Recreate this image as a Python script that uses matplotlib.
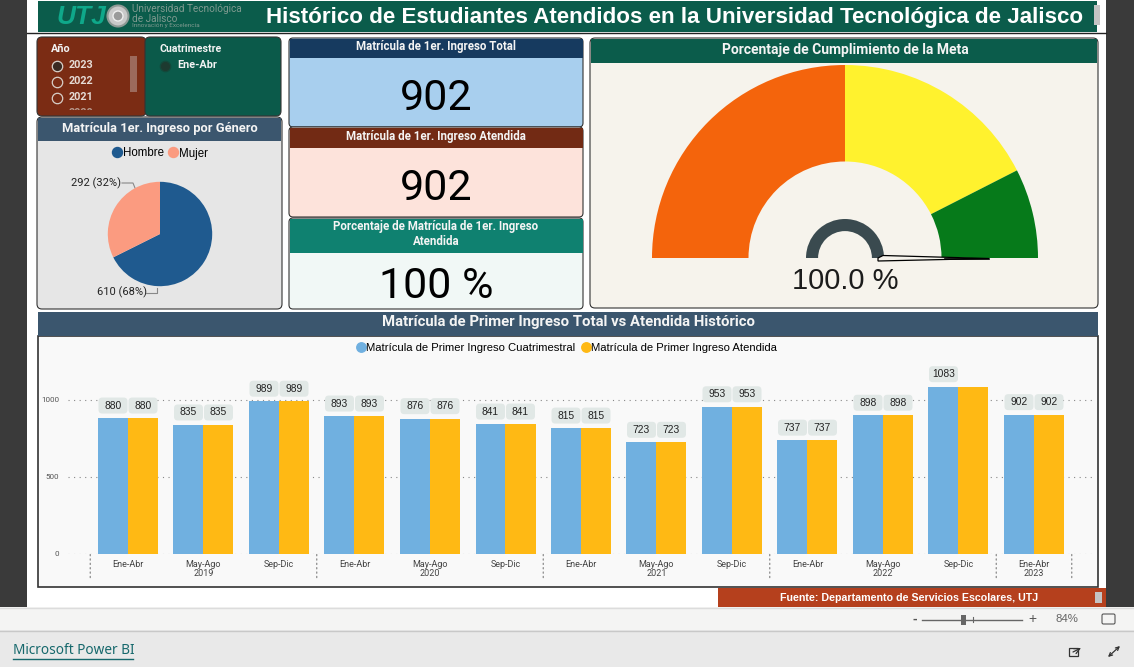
import matplotlib
matplotlib.use("Agg")
import matplotlib.pyplot as plt
from matplotlib.patches import Rectangle, FancyBboxPatch, Circle, Polygon
from matplotlib.lines import Line2D

W, H = 1134, 667
DIN = ['Liberation Sans Narrow', 'Roboto', 'DejaVu Sans']
ARIAL = ['Liberation Sans', 'DejaVu Sans']

# ---------- data ----------
years = ['2019', '2020', '2021', '2022', '2023']
year_centres = [1, 4, 7, 10, 12]
year_separators = [-0.5, 2.5, 5.5, 8.5, 11.5, 12.5]
periods = ['Ene-Abr', 'May-Ago', 'Sep-Dic'] * 4 + ['Ene-Abr']
total_series = [880, 835, 989, 893, 876, 841, 815, 723, 953, 737, 898, 1083, 902]
attended_series = [880, 835, 989, 893, 876, 841, 815, 723, 953, 737, 898, 1083, 902]
gender_labels = ['Hombre', 'Mujer']
gender_values = [610, 292]
gender_text = ['610 (68%)', '292 (32%)']
gauge_segments = [50, 35, 15]
gauge_colors = ['#f4640c', '#fff22e', '#067a1a']
slicer_years = ['2023', '2022', '2021']
kpi_total = '902'
kpi_attended = '902'
kpi_percent = '100 %'
gauge_value = '100.0 %'

fig = plt.figure(figsize=(W / 100, H / 100), dpi=100, facecolor='white')
bg = fig.add_axes([0, 0, 1, 1])
bg.set_xlim(0, W); bg.set_ylim(H, 0); bg.axis('off')


def axes_px(x0, y0, x1, y1, **kw):
    return fig.add_axes([x0 / W, 1 - y1 / H, (x1 - x0) / W, (y1 - y0) / H], **kw)


def rect(x0, y0, x1, y1, color, z=1, **kw):
    bg.add_patch(Rectangle((x0, y0), x1 - x0, y1 - y0, facecolor=color, edgecolor=kw.pop('ec', 'none'),
                           linewidth=kw.pop('lw', 0), zorder=z, **kw))


def rbox(x0, y0, x1, y1, color, z=1, ec='#333333', lw=0.8, r=5):
    bg.add_patch(FancyBboxPatch((x0 + r, y0 + r), x1 - x0 - 2 * r, y1 - y0 - 2 * r,
                                boxstyle=f'round,pad={r},rounding_size={r}', facecolor=color,
                                edgecolor=ec, linewidth=lw, zorder=z))


def txt(x, y, s, size, color='black', ha='center', va='center', family=DIN, weight='normal', z=6, **kw):
    return bg.text(x, y, s, fontsize=size, color=color, ha=ha, va=va, family=family,
                   fontweight=weight, zorder=z, **kw)


# ---------- page chrome ----------
rect(0, 0, 27, 607, '#3a3a3a')
rect(1106, 0, W, 607, '#3a3a3a')
rect(0, 607, W, 630, '#f4f4f3')
rect(0, 630, W, H, '#e9e9e9')
bg.plot([0, W], [607.5, 607.5], color='#dcdcdc', lw=1, zorder=2)
bg.plot([0, W], [630.5, 630.5], color='#c8c8c8', lw=1, zorder=2)

# ---------- header ----------
rect(38, 1, 1097, 32, '#0b5c4b', z=2)
bg.plot([27, 1106], [32.5, 32.5], color='#222222', lw=1, zorder=3)
txt(81, 17, 'UTJ', 19, '#0fa88a', family=ARIAL, weight='bold', style='italic')
bg.add_patch(Circle((118, 16), 10.5, facecolor='#c9c9c9', edgecolor='#8f9a96', lw=1.5, zorder=4))
bg.add_patch(Circle((118, 16), 5, facecolor='#9a9a9a', edgecolor='#eeeeee', lw=1, zorder=5))
txt(132, 9.5, 'Universidad Tecnológica', 7.2, '#7f9a90', ha='left')
txt(132, 18.5, 'de Jalisco', 7.2, '#7f9a90', ha='left')
txt(132, 26, 'Innovación y Excelencia', 4.6, '#7f9a90', ha='left')
txt(675, 17, 'Histórico de Estudiantes Atendidos en la Universidad Tecnológica de Jalisco',
    16.1, 'white', family=ARIAL, weight='bold')
rect(1094, 5, 1100, 25, '#c4c4c4', z=4)

# ---------- slicers ----------
rbox(37, 37, 146, 116, '#7b2c14', z=2)
rbox(145, 37, 281, 116, '#0b5a4a', z=2)
txt(51, 49.5, 'Año', 7.8, '#f3f3f3', ha='left', weight='bold')
txt(159, 49.5, 'Cuatrimestre', 7.6, '#f3f3f3', ha='left', weight='bold')
for i, (label, sy) in enumerate(zip(slicer_years, [65.5, 81.5, 97.5])):
    bg.plot(57, sy, 'o', ms=7.5, mfc='#3a2a22' if i == 0 else 'none', mec='#d8cfc8', mew=0.9, zorder=5)
    txt(69, sy, label, 7.8, '#e6dcd6', ha='left', weight='bold')
clip = Rectangle((40, 100), 85, 10, transform=bg.transData)
hidden = txt(69, 113.5, '2020', 7.8, '#b89a8e', ha='left', weight='bold')
hidden.set_clip_path(clip)
hidden.set_clip_on(True)
rect(130, 56, 137, 92, '#9c6a5c', z=4)
bg.plot(164.5, 65.5, 'o', ms=7.5, mfc='#1d3a30', mec='#124a3c', mew=0.9, zorder=5)
txt(177, 65.5, 'Ene-Abr', 7.8, '#f3f3f3', ha='left', weight='bold')

# ---------- gender panel ----------
rbox(37, 117, 282, 309, '#e6e6e6', z=2)
rect(38, 118, 281, 141, '#3b566e', z=3)
txt(160, 128.5, 'Matrícula 1er. Ingreso por Género', 9.25, '#f4f4f4', weight='bold')
pie_ax = axes_px(100, 174, 220, 294)
pie_colors = ['#1f5a8f', '#fb9b80']
wedges, _ = pie_ax.pie(gender_values, colors=pie_colors, startangle=90, counterclock=False, radius=0.87)
pie_ax.set_xlim(-1, 1); pie_ax.set_ylim(-1, 1)
pie_ax.set_aspect('equal')
pie_handles = [Line2D([], [], marker='o', ls='', ms=7.2, color=c) for c in pie_colors]
fig.legend(pie_handles, gender_labels, loc='center', bbox_to_anchor=(160.5 / W, 1 - 153.5 / H), ncol=2, frameon=False,
           handlelength=0.7, handletextpad=0.1, columnspacing=0.5, prop={'family': ARIAL, 'size': 8.3})
txt(71, 183, gender_text[1], 8, '#222222', ha='left')
txt(97, 292, gender_text[0], 8, '#222222', ha='left')
bg.plot([122, 133, 135], [183, 183, 188], color='#888888', lw=0.8, zorder=6)
bg.plot([146, 157, 157], [293, 293, 288], color='#888888', lw=0.8, zorder=6)

# ---------- KPI cards ----------
kpis = [
    (38, 58, 127, '#163a5f', '#a8cfee', 'Matrícula de 1er. Ingreso Total', kpi_total, 99),
    (127, 148, 217, '#722a14', '#fde3db', 'Matrícula de 1er. Ingreso Atendida', kpi_attended, 189),
    (218, 253, 309, '#0f8170', '#f1f8f6', 'Porcentaje de Matrícula de 1er. Ingreso\nAtendida', kpi_percent, 287),
]
for y0, ym, y1, hc, bc, title, val, vy in kpis:
    rbox(289, y0, 583, y1, bc, z=2, r=4)
    rect(289.5, y0 + 1, 582.5, ym, hc, z=3)
    txt(436, (y0 + ym) / 2 - 1.2, title, 8.3, '#f4f4f4', weight='bold', linespacing=1.2)
    txt(436, vy, val, 31, 'black')

# ---------- gauge ----------
rbox(590, 38, 1098, 308, '#f6f3ec', z=2)
rect(591, 39, 1097, 63, '#0b5c4b', z=3)
txt(845, 50, 'Porcentaje de Cumplimiento de la Meta', 10, '#f4f4f4', weight='bold')
R = 193
g_ax = axes_px(845 - R, 258 - R, 845 + R, 258 + R)
g_ax.pie(gauge_segments + [sum(gauge_segments)], colors=gauge_colors + ['none'], startangle=180,
         counterclock=False, radius=1, wedgeprops={'width': 0.5, 'linewidth': 0})
g_ax.set_xlim(-1, 1); g_ax.set_ylim(-1, 1)
g_ax.set_aspect('equal')
g_ax.patch.set_alpha(0)
r2 = 39
g2_ax = axes_px(845 - r2, 258 - r2, 845 + r2, 258 + r2)
g2_ax.pie([1, 1], colors=['#3a4a4f', 'none'], startangle=180, counterclock=False, radius=1,
          wedgeprops={'width': 0.31, 'linewidth': 0})
g2_ax.set_xlim(-1, 1); g2_ax.set_ylim(-1, 1)
g2_ax.set_aspect('equal')
g2_ax.patch.set_alpha(0)
needle = axes_px(590, 38, 1098, 308)
needle.set_xlim(590, 1098); needle.set_ylim(308, 38); needle.axis('off')
needle.add_patch(Polygon([(883, 255.5), (989, 258.5), (878, 261), (878, 258)], closed=True,
                         facecolor='#f6f3ec', edgecolor='black', lw=0.9))
needle.plot([945, 989], [258.5, 258.5], color='black', lw=1.2)
needle.text(845, 281, gauge_value, fontsize=21, family=ARIAL, ha='center', va='center', color='#1c1c1c')

# ---------- history panel ----------
rect(38, 336, 1098, 587, '#f9f9f9', z=2, ec='#333333', lw=1.2)
rect(38, 312, 1098, 336, '#3b566e', z=3)
txt(568, 322, 'Matrícula de Primer Ingreso Total vs Atendida Histórico', 10.7, '#f4f4f4', weight='bold')

ax_l, ax_r, ax_t, ax_b = 68, 1095, 337, 554
step, first, scale = 75.5, 128, 0.1545
ax = axes_px(ax_l, ax_t, ax_r, ax_b)
ax.patch.set_alpha(0)
ax.set_xlim((ax_l - first) / step, (ax_r - first) / step)
ax.set_ylim(0, (ax_b - ax_t) / scale)
xs = list(range(len(periods)))
bw = 30 / step
c1, c2 = '#70b0e0', '#ffb914'
ax.bar([x - bw / 2 for x in xs], total_series, bw, color=c1, linewidth=0, zorder=3,
       label='Matrícula de Primer Ingreso Cuatrimestral')
ax.bar([x + bw / 2 for x in xs], attended_series, bw, color=c2, linewidth=0, zorder=3,
       label='Matrícula de Primer Ingreso Atendida')
for s in ax.spines.values():
    s.set_visible(False)
ax.set_yticks([0, 500, 1000])
ax.set_yticklabels(['0', '500', '1000'], fontsize=5.8, color='#555555', family=DIN)
ax.yaxis.grid(True, linestyle=(0, (1, 4)), color='#888888', linewidth=0.8, zorder=1)
ax.tick_params(axis='y', length=0, pad=6.5)
ax.set_xticks(xs)
ax.set_xticklabels(periods, fontsize=6.5, color='#444444', family=DIN)
ax.tick_params(axis='x', length=0, pad=4.5)
for c, y in zip(year_centres, years):
    ax.annotate(y, (c, 0), xytext=(0, -14), textcoords='offset points', xycoords=('data', 'axes fraction'),
                ha='center', va='center', fontsize=6.5, color='#444444', family=DIN, annotation_clip=False)
for sep in year_separators:
    ax.annotate('', (sep, 0), xytext=(0, -18), textcoords='offset points', xycoords=('data', 'axes fraction'),
                arrowprops=dict(arrowstyle='-', linestyle=(0, (1, 2.5)), color='#888888', linewidth=0.9,
                                shrinkA=1, shrinkB=0), annotation_clip=False)


def value_label(x, v):
    ch = 16 / scale
    cw = 29 / step
    cy = v + 12.5 / scale
    ax.add_patch(FancyBboxPatch((x - cw / 2, cy - ch / 2), cw, ch, boxstyle='round,pad=0,rounding_size=0.05',
                                mutation_aspect=step / scale, facecolor='#e1e8e6', edgecolor='none', zorder=4))
    ax.text(x, cy, str(v), ha='center', va='center', fontsize=7.4, family=ARIAL, color='#222222', zorder=5)


for i, (a, b) in enumerate(zip(total_series, attended_series)):
    value_label(i - bw / 2, a)
    if b < 1000:
        value_label(i + bw / 2, b)
handles = [Line2D([], [], marker='o', ls='', ms=6.8, color=c1), Line2D([], [], marker='o', ls='', ms=6.8, color=c2)]
ax.legend(handles, ['Matrícula de Primer Ingreso Cuatrimestral', 'Matrícula de Primer Ingreso Atendida'],
          loc='center', bbox_to_anchor=(567 / W, 1 - 348 / H), bbox_transform=fig.transFigure, ncol=2, frameon=False,
          handlelength=0.7, handletextpad=0.1, columnspacing=0.55, prop={'family': ARIAL, 'size': 8.1})

# ---------- footer ----------
rect(718, 588, 1106, 607, '#b5401d', z=3)
txt(909, 598, 'Fuente: Departamento de Servicios Escolares, UTJ', 7.65, 'white', family=ARIAL, weight='bold')
rect(1095, 592, 1102, 603, '#c4c4c4', z=4)
bg.plot([922, 1022], [619.5, 619.5], color='#666666', lw=1, zorder=3)
rect(961, 615, 966, 625, '#666666', z=4)
bg.plot([972.5, 972.5], [617, 622], color='#666666', lw=0.8, zorder=4)
txt(915, 619, '-', 10, '#555555', family=ARIAL, weight='bold')
txt(1032, 619, '+', 10, '#555555', family=ARIAL)
txt(1067, 619, '84%', 8.2, '#666666', family=ARIAL)
bg.add_patch(FancyBboxPatch((1103, 615), 11, 8, boxstyle='round,pad=1,rounding_size=1.5', facecolor='none',
                            edgecolor='#555555', lw=0.8, zorder=4))
txt(13, 651, 'Microsoft Power BI', 9.8, '#16686c', ha='left', family=['Noto Sans', 'DejaVu Sans'])
bg.plot([13, 133], [658.5, 658.5], color='#16686c', lw=1, zorder=4)
# share and expand icons
bg.add_patch(Rectangle((1069, 648), 9, 8, facecolor='none', edgecolor='#333333', lw=0.9, zorder=4))
bg.annotate('', (1081, 648), xytext=(1073, 652), arrowprops=dict(arrowstyle='->', lw=0.9, color='#333333', shrinkA=0, shrinkB=0), zorder=5)
bg.annotate('', (1120, 646), xytext=(1108, 657), arrowprops=dict(arrowstyle='<->', lw=0.9, color='#333333', shrinkA=0, shrinkB=0,
            mutation_scale=6), zorder=5)

fig.savefig('out.png', dpi=100, facecolor='white')
